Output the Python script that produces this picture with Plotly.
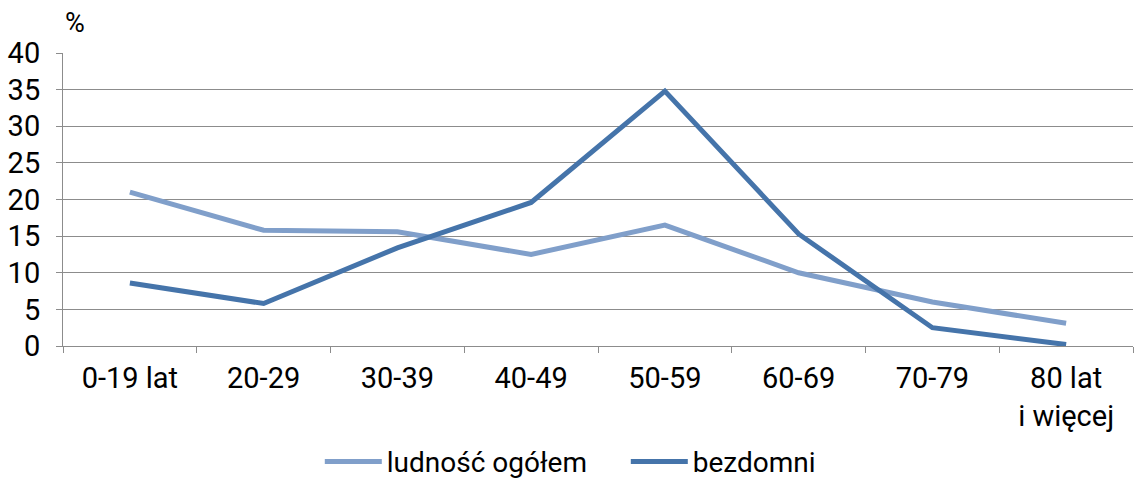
import plotly.graph_objects as go

# Age groups and the share (%) of each group
age_groups = ["0-19 lat", "20-29", "30-39", "40-49", "50-59", "60-69", "70-79", "80 lat<br>i więcej"]
ludnosc_ogolem = [21.0, 15.8, 15.6, 12.5, 16.5, 10.0, 6.0, 3.1]
bezdomni = [8.6, 5.8, 13.4, 19.6, 34.8, 15.3, 2.5, 0.2]
y_ticks = [0, 5, 10, 15, 20, 25, 30, 35, 40]

FONT = "Roboto, Liberation Sans, sans-serif"
GRID = "#8c8c8c"

fig = go.Figure()
fig.add_trace(go.Scatter(
    x=age_groups, y=ludnosc_ogolem, name="ludność ogółem", mode="lines",
    line=dict(color="#809fca", width=5),
))
fig.add_trace(go.Scatter(
    x=age_groups, y=bezdomni, name="bezdomni", mode="lines",
    line=dict(color="#4574aa", width=5),
))

fig.update_layout(
    width=1135, height=484,
    margin=dict(l=63, r=2, t=53, b=138, autoexpand=False),
    paper_bgcolor="white", plot_bgcolor="white",
    font=dict(family=FONT, size=29, color="#000000"),
    hovermode=False,
    showlegend=True,
    legend=dict(
        orientation="h", x=0.24, xanchor="left",
        yref="container", y=0.046, yanchor="middle",
        font=dict(family=FONT, size=28, color="#000000"),
        itemwidth=57, entrywidth=234, entrywidthmode="pixels",
        bgcolor="rgba(0,0,0,0)",
    ),
    xaxis=dict(
        type="category", range=[-0.5, 7.5],
        showgrid=False, zeroline=False,
        showline=True, linecolor=GRID, linewidth=1,
        ticks="outside", tickson="boundaries", ticklen=6, tickcolor=GRID,
        tickfont=dict(family=FONT, size=29, color="#000000"),
        ticklabelstandoff=6,
    ),
    yaxis=dict(
        range=[0, 40], tickvals=y_ticks,
        showgrid=True, gridcolor=GRID, gridwidth=1,
        zeroline=False,
        showline=True, linecolor=GRID, linewidth=1,
        ticks="outside", ticklen=6, tickcolor=GRID,
        tickfont=dict(family=FONT, size=29, color="#000000"),
        ticklabelstandoff=10,
    ),
    annotations=[dict(
        text="%", xref="paper", yref="paper", x=0.0, y=1.0,
        xanchor="left", yanchor="bottom", yshift=12, showarrow=False,
        font=dict(family=FONT, size=27, color="#000000"),
    )],
)

fig.write_html("out.html")
